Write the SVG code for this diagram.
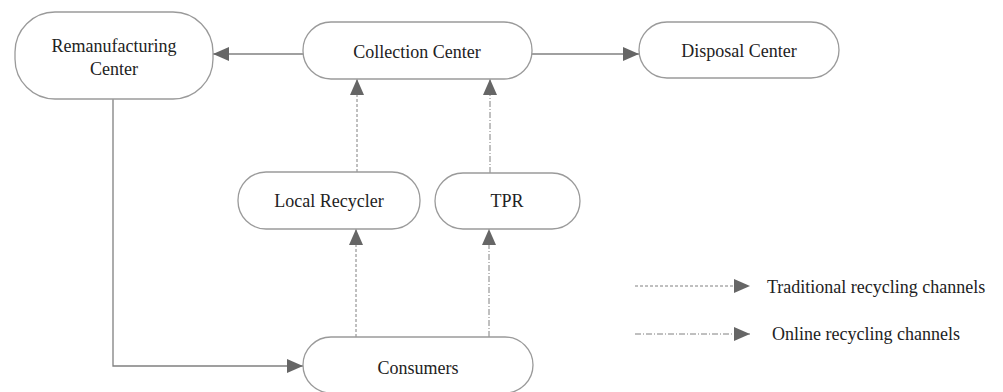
<svg xmlns="http://www.w3.org/2000/svg" width="1003" height="392" viewBox="0 0 1003 392">
<style>
.node rect{fill:#fff;stroke:#9a9a9a;stroke-width:1.3}
.node text{font-family:"Liberation Serif","DejaVu Serif",serif;font-size:18px;fill:#222;text-anchor:middle}
.legend text{font-family:"Liberation Serif","DejaVu Serif",serif;font-size:18px;fill:#222;text-anchor:start}
.solid{stroke:#808080;stroke-width:1.3;fill:none}
.trad{stroke:#808080;stroke-width:1;fill:none;stroke-dasharray:3 2}
.online{stroke:#808080;stroke-width:1;fill:none;stroke-dasharray:6 2 1 2}
</style>
<defs>
<marker id="ah" viewBox="0 0 16 14" refX="16" refY="7" markerWidth="16" markerHeight="14" markerUnits="userSpaceOnUse" orient="auto">
<path d="M0,0 L16,7 L0,14 Z" fill="#666"/>
</marker>
</defs>
<rect width="1003" height="392" fill="#fff"/>
<g id="connectors">
<path class="solid" d="M303,54 H213" marker-end="url(#ah)"/>
<path class="solid" d="M532,54 H639" marker-end="url(#ah)"/>
<path class="solid" d="M113,99 V366 H303" marker-end="url(#ah)"/>
<path class="trad" d="M357,172 V79" marker-end="url(#ah)"/>
<path class="online" d="M490,173 V79" marker-end="url(#ah)"/>
<path class="trad" d="M356,337 V229" marker-end="url(#ah)"/>
<path class="online" d="M489,337 V229" marker-end="url(#ah)"/>
</g>
<g id="remanufacturing" class="node">
<rect x="15" y="12" width="198" height="87" rx="40"/>
<text x="114" y="52">Remanufacturing</text>
<text x="114" y="75">Center</text>
</g>
<g id="collection" class="node">
<rect x="303" y="22" width="229" height="57" rx="28"/>
<text x="417" y="58">Collection Center</text>
</g>
<g id="disposal" class="node">
<rect x="639" y="22" width="200" height="56" rx="28"/>
<text x="739" y="57">Disposal Center</text>
</g>
<g id="local-recycler" class="node">
<rect x="238" y="172" width="182" height="57" rx="28"/>
<text x="329" y="207">Local Recycler</text>
</g>
<g id="tpr" class="node">
<rect x="435" y="173" width="145" height="56" rx="28"/>
<text x="507" y="207">TPR</text>
</g>
<g id="consumers" class="node">
<rect x="303" y="337" width="230" height="56" rx="28"/>
<text x="418" y="374">Consumers</text>
</g>
<g id="legend" class="legend">
<path class="trad" d="M635,286 H750" marker-end="url(#ah)"/>
<text x="767" y="293">Traditional recycling channels</text>
<path class="online" d="M635,334 H750" marker-end="url(#ah)"/>
<text x="772" y="340">Online recycling channels</text>
</g>
</svg>
